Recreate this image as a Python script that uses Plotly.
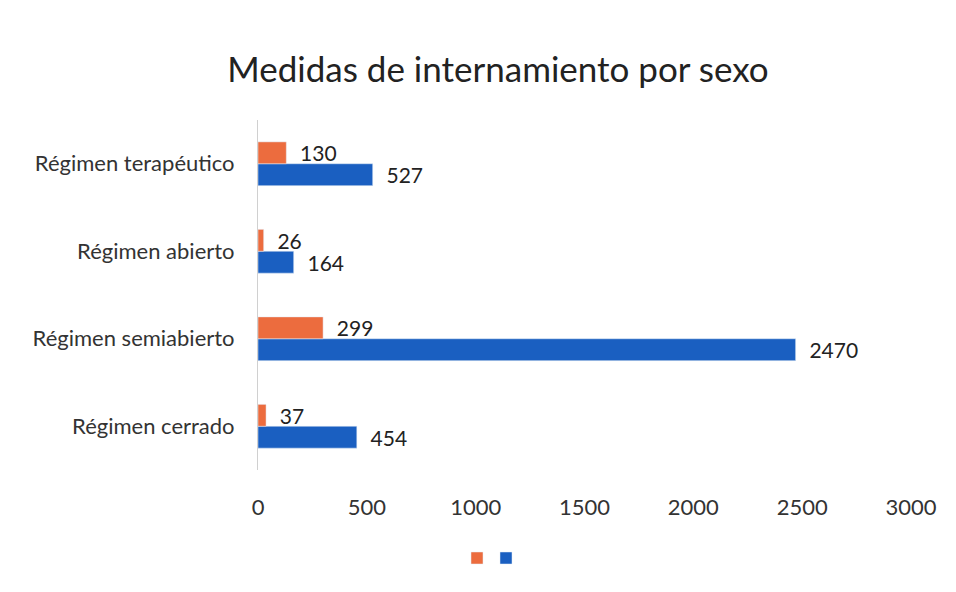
import plotly.graph_objects as go

categories = ["Régimen cerrado", "Régimen semiabierto", "Régimen abierto", "Régimen terapéutico"]
mujeres = [37, 299, 26, 130]
hombres = [454, 2470, 164, 527]
x_ticks = [0, 500, 1000, 1500, 2000, 2500, 3000]

FONT = "Lato"
fig = go.Figure()
fig.add_trace(go.Bar(y=categories, x=hombres, orientation="h", name=" ",
                     marker_color="#1A5FC1", texttemplate="\u00a0\u00a0%{x}",
                     textposition="outside", constraintext="none",
                     textfont=dict(size=21, color="#222"), cliponaxis=False,
                     legend="legend2"))
fig.add_trace(go.Bar(y=categories, x=mujeres, orientation="h", name=" ",
                     marker_color="#EC6C3E", texttemplate="\u00a0\u00a0%{x}",
                     textposition="outside", constraintext="none",
                     textfont=dict(size=21, color="#222"), cliponaxis=False,
                     legend="legend"))

fig.update_layout(
    width=956, height=592,
    paper_bgcolor="white", plot_bgcolor="white",
    margin=dict(l=250, r=53, t=112, b=130, autoexpand=False),
    barmode="group", bargap=0.5, bargroupgap=0,
    font=dict(family=FONT, size=22, color="#333"),
    title=dict(text="Medidas de internamiento por sexo", x=490/956, xref="container",
               xanchor="center", y=1 - 62/592, yanchor="middle",
               font=dict(family=FONT, size=35, color="#222")),
    legend=dict(orientation="h", xref="container", yref="container",
                x=(469 - 20) / 956, xanchor="left", y=1 - 550/592, yanchor="middle",
                font=dict(size=12), bgcolor="rgba(0,0,0,0)"),
    legend2=dict(orientation="h", xref="container", yref="container",
                 x=(498 - 20) / 956, xanchor="left", y=1 - 550/592, yanchor="middle",
                 font=dict(size=12), bgcolor="rgba(0,0,0,0)"),
    showlegend=True,
)
fig.update_xaxes(range=[0, 3000], tickvals=x_ticks, showgrid=False, zeroline=False,
                 showline=False, ticks="outside", ticklen=18, tickcolor="white",
                 tickfont=dict(size=22, color="#333"))
fig.update_yaxes(showgrid=False, showline=True, linecolor="#d0d0d0", linewidth=1,
                 ticks="outside", ticklen=18, tickcolor="white",
                 tickfont=dict(size=22, color="#333"))

fig.write_html("out.html")
